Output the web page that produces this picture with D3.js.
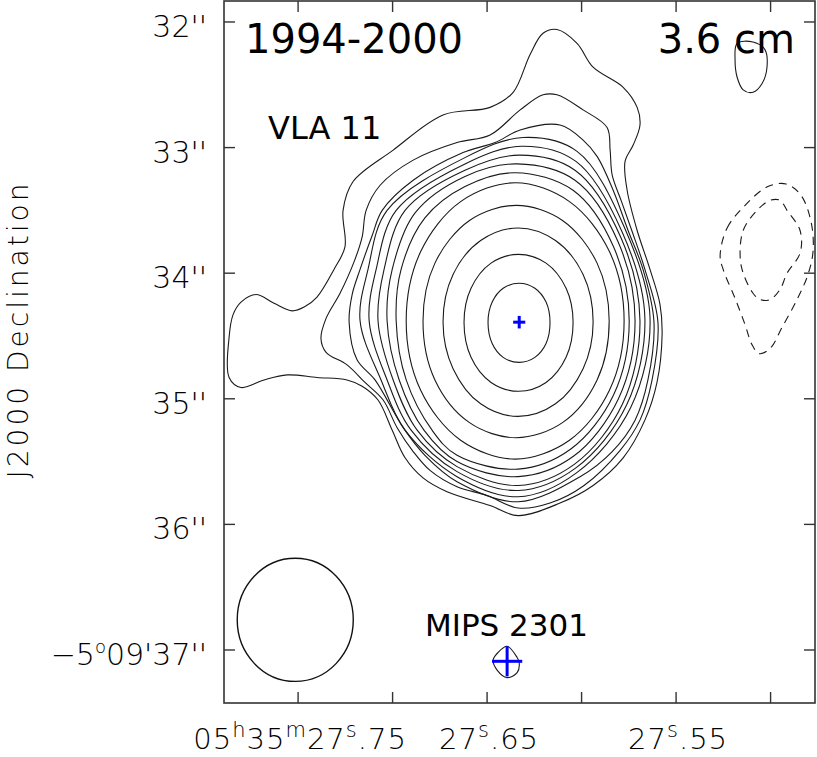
<!DOCTYPE html>
<html>
<head>
<meta charset="utf-8">
<script src="https://d3js.org/d3.v7.min.js"></script>
<style>
  html, body { margin: 0; padding: 0; background: #fff; }
  svg { display: block; }
  .tick-label { font-family: "DejaVu Sans", sans-serif; font-weight: 200; fill: #000; }
  .note { font-family: "DejaVu Sans", sans-serif; fill: #000; }
</style>
</head>
<body>
<div id="chart"></div>
<script>
// --- axis ticks (RA in seconds of 05h35m, Dec in arcsec of -5d09m) ---
const raTicks = [27.75, 27.70, 27.65, 27.60, 27.55, 27.50];
const raLabels = ["05h35m27s.75", "", "27s.65", "", "27s.55", ""];
const decTicks = [32, 33, 34, 35, 36, 37];
const decLabels = ["32''", "33''", "34''", "35''", "36''", "\u22125o09'37''"];

// --- 3.6 cm contours of VLA 11, inner to outer, [RA s, Dec arcsec] ---
const cont1 = [[27.6330,34.08],[27.6247,34.12],[27.6188,34.23],[27.6167,34.39],[27.6188,34.56],[27.6247,34.67],[27.6330,34.71],[27.6415,34.67],[27.6473,34.56],[27.6495,34.39],[27.6473,34.23],[27.6415,34.12]];
const cont2 = [[27.6333,33.85],[27.6188,33.92],[27.6082,34.12],[27.6045,34.39],[27.6082,34.67],[27.6188,34.87],[27.6333,34.94],[27.6479,34.87],[27.6585,34.67],[27.6622,34.39],[27.6585,34.12],[27.6479,33.92]];
const cont3 = [[27.6336,33.64],[27.6138,33.74],[27.5992,34.01],[27.5939,34.39],[27.5992,34.76],[27.6138,35.04],[27.6336,35.14],[27.6534,35.04],[27.6680,34.76],[27.6733,34.39],[27.6680,34.01],[27.6534,33.74]];
const cont4 = [[27.6346,33.46],[27.6101,33.58],[27.5918,33.92],[27.5854,34.38],[27.5918,34.85],[27.6101,35.19],[27.6346,35.31],[27.6593,35.19],[27.6776,34.85],[27.6839,34.38],[27.6776,33.92],[27.6593,33.58]];
const cont5 = [[27.6351,33.28],[27.6064,33.43],[27.5852,33.83],[27.5775,34.38],[27.5852,34.93],[27.6064,35.33],[27.6351,35.48],[27.6640,35.33],[27.6852,34.93],[27.6928,34.38],[27.6852,33.83],[27.6640,33.43]];
const cont6 = [[27.6351,33.20],[27.6045,33.34],[27.5831,33.79],[27.5748,34.38],[27.5831,34.97],[27.6057,35.40],[27.6336,35.56],[27.6659,35.45],[27.6791,35.25],[27.6928,34.85],[27.6981,34.38],[27.6955,33.97],[27.6829,33.56],[27.6617,33.31]];
const cont7 = [[27.6341,33.13],[27.6035,33.26],[27.5807,33.75],[27.5717,34.38],[27.5805,35.00],[27.6045,35.46],[27.6336,35.62],[27.6659,35.50],[27.6834,35.25],[27.6965,34.85],[27.7029,34.38],[27.7002,33.97],[27.6881,33.52],[27.6617,33.23]];
const cont8 = [[27.6330,33.06],[27.6035,33.18],[27.5791,33.72],[27.5691,34.38],[27.5783,35.04],[27.6037,35.52],[27.6336,35.69],[27.6659,35.54],[27.6870,35.25],[27.6997,34.85],[27.7077,34.38],[27.7045,33.97],[27.6934,33.50],[27.6617,33.18]];
const cont9 = [[27.6320,32.99],[27.6030,33.11],[27.5786,33.67],[27.5665,34.36],[27.5762,35.05],[27.6030,35.55],[27.6336,35.73],[27.6659,35.58],[27.6902,35.25],[27.7029,34.85],[27.7124,34.38],[27.7087,33.97],[27.6981,33.50],[27.6617,33.13]];
const cont10 = [[27.6309,32.92],[27.6024,33.03],[27.5775,33.63],[27.5638,34.35],[27.5740,35.07],[27.6027,35.59],[27.6336,35.78],[27.6659,35.62],[27.6934,35.25],[27.7061,34.85],[27.7172,34.38],[27.7130,33.97],[27.7029,33.50],[27.6617,33.08]];
const cont11 = [[27.6325,32.86],[27.6114,32.82],[27.5992,32.94],[27.5918,33.07],[27.5833,33.34],[27.5754,33.66],[27.5675,33.97],[27.5617,34.39],[27.5649,34.85],[27.5717,35.17],[27.5838,35.42],[27.6008,35.62],[27.6336,35.82],[27.6659,35.66],[27.6829,35.45],[27.6944,35.23],[27.7093,34.85],[27.7188,34.69],[27.7230,34.39],[27.7214,34.17],[27.7172,33.97],[27.7108,33.70],[27.7055,33.50],[27.6891,33.26],[27.6627,33.04],[27.6458,32.96]];
const cont12 = [[27.6325,32.70],[27.6204,32.58],[27.6130,32.58],[27.5992,32.70],[27.5865,32.84],[27.5849,33.02],[27.5838,33.22],[27.5791,33.42],[27.5732,33.67],[27.5665,33.97],[27.5596,34.39],[27.5627,34.85],[27.5691,35.17],[27.5796,35.41],[27.5987,35.69],[27.6167,35.83],[27.6336,35.87],[27.6500,35.77],[27.6659,35.70],[27.6802,35.57],[27.6891,35.42],[27.6976,35.23],[27.7050,35.01],[27.7146,34.87],[27.7241,34.73],[27.7352,34.63],[27.7379,34.52],[27.7352,34.36],[27.7278,34.16],[27.7204,33.91],[27.7161,33.71],[27.7140,33.50],[27.7066,33.30],[27.6891,33.10],[27.6659,32.96],[27.6484,32.90]];
const cont13 = [[27.6130,32.06],[27.6024,32.17],[27.5939,32.36],[27.5780,32.52],[27.5706,32.68],[27.5691,32.82],[27.5727,32.98],[27.5770,33.11],[27.5759,33.34],[27.5706,33.66],[27.5638,33.97],[27.5585,34.25],[27.5574,34.49],[27.5601,34.87],[27.5665,35.17],[27.5780,35.47],[27.5939,35.69],[27.6114,35.83],[27.6336,35.93],[27.6484,35.85],[27.6712,35.74],[27.6839,35.63],[27.6934,35.47],[27.7002,35.25],[27.7077,35.01],[27.7161,34.90],[27.7241,34.85],[27.7400,34.83],[27.7558,34.81],[27.7680,34.85],[27.7802,34.91],[27.7865,34.83],[27.7865,34.51],[27.7844,34.33],[27.7802,34.23],[27.7722,34.17],[27.7627,34.24],[27.7531,34.30],[27.7468,34.27],[27.7400,34.19],[27.7310,33.97],[27.7252,33.79],[27.7262,33.50],[27.7209,33.27],[27.6997,33.02],[27.6733,32.74],[27.6484,32.68],[27.6362,32.56],[27.6273,32.26],[27.6204,32.09]];

// --- other features ---
const knotNW = [[27.5177,32.17],[27.5093,32.16],[27.5030,32.22],[27.5019,32.36],[27.5045,32.49],[27.5093,32.56],[27.5145,32.54],[27.5177,32.44],[27.5188,32.30]];
const negOuter = [[27.5267,33.86],[27.5230,33.64],[27.5135,33.46],[27.5014,33.31],[27.4918,33.29],[27.4839,33.38],[27.4786,33.59],[27.4775,33.82],[27.4802,34.01],[27.4860,34.21],[27.4939,34.43],[27.5003,34.60],[27.5061,34.64],[27.5098,34.57],[27.5135,34.41],[27.5188,34.20],[27.5251,33.97]];
const negInner = [[27.5161,33.87],[27.5145,33.66],[27.5072,33.50],[27.5003,33.42],[27.4950,33.42],[27.4913,33.50],[27.4844,33.66],[27.4844,33.84],[27.4913,34.00],[27.4950,34.13],[27.5003,34.21],[27.5056,34.21],[27.5093,34.16],[27.5145,34.00]];
const mipsRing = [[27.6394,36.97],[27.6341,37.06],[27.6330,37.10],[27.6341,37.18],[27.6394,37.22],[27.6447,37.16],[27.6468,37.08],[27.6442,37.02]];

// source positions with cross half-sizes [RA s, Dec arcsec]
const sourceNames = ["VLA 11", "MIPS 2301"];
const sourcePos = [[27.6330, 34.39], [27.6394, 37.09]];
const sourceErr = [[0.0032, 0.05], [0.0080, 0.12]];

// synthesized beam: centre and half axes
const beamCentre = [27.7515, 36.76];
const beamHalf = [0.0307, 0.49];

// ---------------------------------------------------------------
const W = 817, H = 757;
const frame = { left: 224, right: 815, top: 1, bottom: 703 };

const svg = d3.select('#chart').append('svg')
  .attr('width', W)
  .attr('height', H)
  .style('background', '#fff');

// RA grows to the left, Dec offset grows downward
const x = d3.scaleLinear().domain([27.7892, 27.4765]).range([frame.left, frame.right]);
const y = d3.scaleLinear().domain([31.833, 37.422]).range([frame.top, frame.bottom]);

svg.append('clipPath').attr('id', 'plot-clip')
  .append('rect')
  .attr('x', frame.left).attr('y', frame.top)
  .attr('width', frame.right - frame.left)
  .attr('height', frame.bottom - frame.top);

const plot = svg.append('g').attr('clip-path', 'url(#plot-clip)');

const ring = d3.line()
  .x(d => x(d[0]))
  .y(d => y(d[1]))
  .curve(d3.curveCatmullRomClosed.alpha(0.5));

const positive = [cont1, cont2, cont3, cont4, cont5, cont6, cont7, cont8, cont9, cont10, cont11, cont12, cont13, knotNW, mipsRing];

plot.selectAll('.pos')
  .data(positive)
  .enter()
  .append('path')
  .attr('class', 'pos')
  .attr('d', ring)
  .attr('fill', 'none')
  .attr('stroke', '#1a1a1a')
  .attr('stroke-width', 1.1);

plot.selectAll('.neg')
  .data([negOuter, negInner])
  .enter()
  .append('path')
  .attr('class', 'neg')
  .attr('d', ring)
  .attr('fill', 'none')
  .attr('stroke', '#1a1a1a')
  .attr('stroke-width', 1.1)
  .attr('stroke-dasharray', '8,6');

// beam ellipse
plot.append('ellipse')
  .attr('cx', x(beamCentre[0]))
  .attr('cy', y(beamCentre[1]))
  .attr('rx', x(beamCentre[0] - beamHalf[0]) - x(beamCentre[0]))
  .attr('ry', y(beamCentre[1] + beamHalf[1]) - y(beamCentre[1]))
  .attr('fill', 'none')
  .attr('stroke', '#111')
  .attr('stroke-width', 1.4);

// blue crosses at source positions
sourcePos.forEach((p, i) => {
  const e = sourceErr[i];
  const g = plot.append('g').attr('stroke', '#0000ff').attr('stroke-width', 3);
  g.append('line')
    .attr('x1', x(p[0] + e[0])).attr('x2', x(p[0] - e[0]))
    .attr('y1', y(p[1])).attr('y2', y(p[1]));
  g.append('line')
    .attr('x1', x(p[0])).attr('x2', x(p[0]))
    .attr('y1', y(p[1] - e[1])).attr('y2', y(p[1] + e[1]));
});

// frame and inward ticks on all four sides
svg.append('rect')
  .attr('x', frame.left).attr('y', frame.top)
  .attr('width', frame.right - frame.left)
  .attr('height', frame.bottom - frame.top)
  .attr('fill', 'none')
  .attr('stroke', '#333')
  .attr('stroke-width', 1.6);

const tickLen = 11;
const ticks = svg.append('g').attr('stroke', '#333').attr('stroke-width', 1.4);
raTicks.forEach(v => {
  ticks.append('line').attr('x1', x(v)).attr('x2', x(v)).attr('y1', frame.bottom).attr('y2', frame.bottom - tickLen);
  ticks.append('line').attr('x1', x(v)).attr('x2', x(v)).attr('y1', frame.top).attr('y2', frame.top + tickLen);
});
decTicks.forEach(v => {
  ticks.append('line').attr('y1', y(v)).attr('y2', y(v)).attr('x1', frame.left).attr('x2', frame.left + tickLen);
  ticks.append('line').attr('y1', y(v)).attr('y2', y(v)).attr('x1', frame.right).attr('x2', frame.right - tickLen);
});

// labels with raised h, m, s and degree marks
function richText(sel, str) {
  let raised = false;
  str.match(/[hmso]|[^hmso]+/g).forEach(part => {
    const t = sel.append('tspan').text(part);
    if ('hmso'.includes(part)) {
      t.attr('font-size', part === 'o' ? 18 : 21).attr('dy', -12);
      raised = true;
    } else if (raised) {
      t.attr('dy', 12);
      raised = false;
    }
  });
}

raTicks.forEach((v, i) => {
  if (!raLabels[i]) return;
  const t = svg.append('text')
    .attr('class', 'tick-label')
    .attr('x', x(v) + 2)
    .attr('y', 749)
    .attr('text-anchor', 'middle')
    .attr('font-size', 29)
    .attr('letter-spacing', 1);
  richText(t, raLabels[i]);
});

decTicks.forEach((v, i) => {
  const t = svg.append('text')
    .attr('class', 'tick-label')
    .attr('x', 207)
    .attr('y', y(v) + 15)
    .attr('text-anchor', 'end')
    .attr('font-size', 30);
  richText(t, decLabels[i]);
});

// axis title
svg.append('text')
  .attr('class', 'tick-label')
  .attr('transform', 'translate(28,331) rotate(-90)')
  .attr('text-anchor', 'middle')
  .attr('font-size', 28)
  .attr('textLength', 295)
  .attr('lengthAdjust', 'spacing')
  .text('J2000 Declination');

// panel annotations
svg.append('text').attr('class', 'note')
  .attr('x', 245).attr('y', 53).attr('font-size', 40)
  .text('1994-2000');

svg.append('text').attr('class', 'note')
  .attr('x', 795).attr('y', 53).attr('font-size', 40)
  .attr('text-anchor', 'end')
  .text('3.6 cm');

svg.append('text').attr('class', 'note')
  .attr('x', 268).attr('y', 139).attr('font-size', 32)
  .text(sourceNames[0]);

svg.append('text').attr('class', 'note')
  .attr('x', 425).attr('y', 636).attr('font-size', 31)
  .text(sourceNames[1]);
</script>
</body>
</html>
